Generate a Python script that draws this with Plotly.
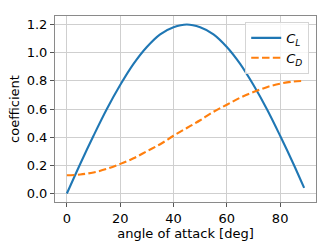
import plotly.graph_objects as go

alpha = [0, 5, 10, 15, 20, 25, 30, 35, 40, 45, 50, 55, 60, 65, 70, 75, 80, 85, 89]
cl = [0.00, 0.21, 0.41, 0.60, 0.77, 0.92, 1.04, 1.13, 1.18, 1.20, 1.18, 1.13, 1.04, 0.92, 0.77, 0.60, 0.41, 0.21, 0.04]
cd = [0.13, 0.135, 0.15, 0.175, 0.21, 0.25, 0.30, 0.35, 0.41, 0.465, 0.52, 0.58, 0.63, 0.68, 0.72, 0.755, 0.78, 0.795, 0.80]
xticks = [0, 20, 40, 60, 80]
yticks = [0.0, 0.2, 0.4, 0.6, 0.8, 1.0, 1.2]

fig = go.Figure()
fig.add_trace(go.Scatter(x=alpha, y=cl, mode="lines", name="<i>C</i><sub><i>L</i></sub>",
                         line=dict(color="#1f77b4", width=2.1, shape="spline")))
fig.add_trace(go.Scatter(x=alpha, y=cd, mode="lines", name="<i>C</i><sub><i>D</i></sub>",
                         line=dict(color="#ff7f0e", width=2.1, dash="7.5px,3.3px", shape="spline")))

axis_common = dict(showgrid=True, gridcolor="#cfcfcf", gridwidth=1, zeroline=False,
                   showline=True, linecolor="#8a8a8a", linewidth=1, mirror=True,
                   ticks="outside", ticklen=4, tickcolor="#555555", automargin=False,
                   tickfont=dict(family="DejaVu Sans", size=13, color="black"))
fig.update_xaxes(range=[-4.45, 93.45], tickvals=xticks, ticktext=[str(t) for t in xticks],
                 title=dict(text="angle of attack [deg]", standoff=2,
                            font=dict(family="DejaVu Sans", size=13, color="black")),
                 **axis_common)
fig.update_yaxes(range=[-0.06, 1.26], tickvals=yticks, ticktext=[f"{t:.1f}" for t in yticks],
                 title=dict(text="coefficient", standoff=4,
                            font=dict(family="DejaVu Sans", size=13, color="black")),
                 **axis_common)
fig.update_layout(width=332, height=249, margin=dict(l=55, r=16, t=16, b=47, autoexpand=False),
                  paper_bgcolor="white", plot_bgcolor="white",
                  font=dict(family="DejaVu Sans", size=13, color="black"),
                  legend=dict(x=0.974, y=0.968, xanchor="right", yanchor="top",
                              bgcolor="rgba(255,255,255,0.8)", bordercolor="#d5d5d5", borderwidth=1,
                              font=dict(family="DejaVu Sans", size=13), itemwidth=30,
                              tracegroupgap=0))
fig.write_html("out.html", config={"displayModeBar": False},
               post_script="document.body.style.margin='0';document.body.style.overflow='hidden';")
